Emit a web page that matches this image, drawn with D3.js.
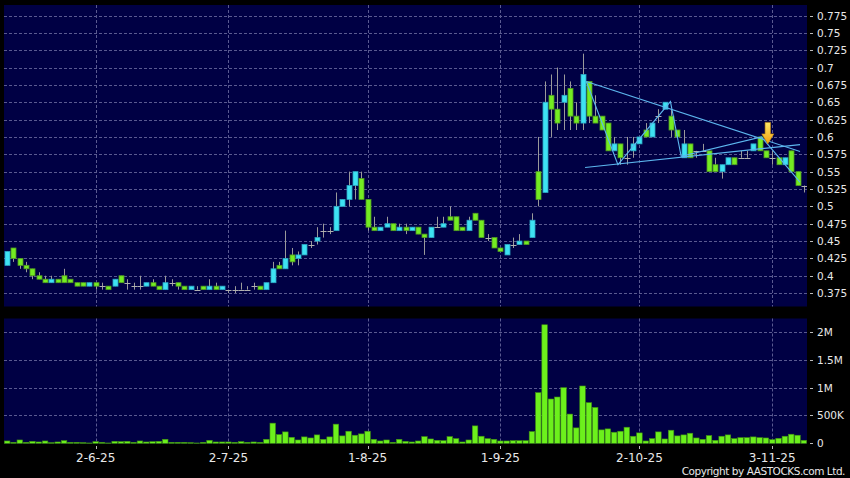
<!DOCTYPE html>
<html>
<head>
<meta charset="utf-8">
<script src="https://cdn.jsdelivr.net/npm/d3@7"></script>
<style>
  html, body { margin: 0; padding: 0; background: #000; }
  svg { display: block; }
</style>
</head>
<body>
<div id="chart"></div>
<script>
// trading days (d-m-yy)
var dates = [
  "13-5-25","14-5-25","15-5-25","16-5-25","19-5-25","20-5-25","21-5-25","22-5-25","23-5-25","26-5-25","27-5-25","28-5-25","29-5-25","30-5-25",
  "2-6-25","3-6-25","4-6-25","5-6-25","6-6-25","9-6-25","10-6-25","11-6-25","12-6-25","13-6-25","16-6-25","17-6-25","18-6-25","19-6-25","20-6-25","23-6-25","24-6-25","25-6-25","26-6-25","27-6-25","30-6-25",
  "2-7-25","3-7-25","4-7-25","7-7-25","8-7-25","9-7-25","10-7-25","11-7-25","14-7-25","15-7-25","16-7-25","17-7-25","18-7-25","21-7-25","22-7-25","23-7-25","24-7-25","25-7-25","28-7-25","29-7-25","30-7-25","31-7-25",
  "1-8-25","4-8-25","5-8-25","6-8-25","7-8-25","8-8-25","11-8-25","12-8-25","13-8-25","14-8-25","15-8-25","18-8-25","19-8-25","20-8-25","21-8-25","22-8-25","25-8-25","26-8-25","27-8-25","28-8-25","29-8-25",
  "1-9-25","2-9-25","3-9-25","4-9-25","5-9-25","8-9-25","9-9-25","10-9-25","11-9-25","12-9-25","15-9-25","16-9-25","17-9-25","18-9-25","19-9-25","22-9-25","23-9-25","24-9-25","25-9-25","26-9-25","29-9-25","30-9-25",
  "2-10-25","3-10-25","6-10-25","7-10-25","8-10-25","9-10-25","10-10-25","13-10-25","14-10-25","15-10-25","16-10-25","17-10-25","20-10-25","21-10-25","22-10-25","23-10-25","24-10-25","27-10-25","28-10-25","30-10-25","31-10-25",
  "3-11-25","4-11-25","5-11-25","6-11-25","7-11-25","10-11-25"
];

var open = [
  0.415,0.44,0.425,0.415,0.41,0.40,0.395,0.39,0.395,0.40,0.395,0.39,0.39,0.385,
  0.39,0.385,0.385,0.385,0.40,0.39,0.385,0.385,0.385,0.39,0.385,0.38,0.39,0.39,0.385,0.38,0.38,0.385,0.38,0.385,0.38,
  0.38,0.38,0.38,0.38,0.385,0.385,0.38,0.39,0.415,0.41,0.43,0.425,0.43,0.445,0.45,0.465,0.465,0.465,0.50,0.51,0.53,0.54,
  0.51,0.47,0.465,0.47,0.475,0.465,0.47,0.465,0.47,0.46,0.455,0.47,0.47,0.485,0.485,0.47,0.465,0.49,0.48,0.455,0.455,
  0.44,0.43,0.445,0.445,0.45,0.455,0.55,0.52,0.66,0.64,0.65,0.67,0.63,0.62,0.68,0.63,0.63,0.62,0.58,0.59,0.57,0.58,
  0.59,0.61,0.60,0.63,0.64,0.63,0.61,0.57,0.59,0.58,0.58,0.58,0.56,0.55,0.56,0.57,0.57,0.57,0.58,0.60,0.58,
  0.57,0.57,0.56,0.58,0.55,0.53
];
var high = [
  0.435,0.44,0.425,0.42,0.41,0.405,0.40,0.40,0.395,0.41,0.395,0.39,0.39,0.39,
  0.39,0.39,0.385,0.395,0.40,0.395,0.39,0.40,0.39,0.395,0.385,0.40,0.395,0.39,0.385,0.385,0.385,0.385,0.395,0.39,0.385,
  0.38,0.385,0.39,0.385,0.39,0.385,0.39,0.42,0.42,0.465,0.44,0.435,0.445,0.45,0.47,0.475,0.47,0.52,0.51,0.55,0.55,0.55,
  0.51,0.485,0.47,0.485,0.475,0.475,0.475,0.47,0.47,0.46,0.47,0.485,0.485,0.50,0.485,0.47,0.485,0.49,0.48,0.46,0.455,
  0.44,0.445,0.455,0.46,0.45,0.49,0.60,0.68,0.69,0.70,0.69,0.68,0.65,0.72,0.68,0.66,0.63,0.62,0.60,0.59,0.60,0.60,
  0.60,0.62,0.62,0.64,0.65,0.64,0.61,0.61,0.59,0.58,0.59,0.58,0.57,0.56,0.57,0.57,0.58,0.58,0.59,0.60,0.58,
  0.58,0.57,0.57,0.58,0.55,0.53
];
var low = [
  0.415,0.42,0.41,0.405,0.395,0.395,0.39,0.39,0.39,0.39,0.39,0.385,0.385,0.385,
  0.38,0.38,0.38,0.385,0.39,0.38,0.38,0.38,0.385,0.385,0.38,0.38,0.385,0.38,0.38,0.38,0.38,0.38,0.38,0.38,0.38,
  0.375,0.375,0.38,0.38,0.38,0.38,0.38,0.39,0.41,0.41,0.415,0.415,0.43,0.44,0.445,0.455,0.46,0.465,0.50,0.50,0.51,0.51,
  0.465,0.465,0.465,0.47,0.465,0.465,0.46,0.465,0.46,0.43,0.455,0.47,0.47,0.48,0.465,0.465,0.465,0.48,0.455,0.45,0.44,
  0.435,0.43,0.44,0.445,0.445,0.455,0.50,0.52,0.60,0.61,0.61,0.61,0.61,0.61,0.62,0.62,0.61,0.58,0.58,0.56,0.56,0.57,
  0.59,0.60,0.60,0.62,0.64,0.60,0.60,0.57,0.57,0.57,0.58,0.55,0.55,0.54,0.56,0.56,0.57,0.57,0.58,0.58,0.57,
  0.56,0.56,0.56,0.55,0.53,0.52
];
var close = [
  0.435,0.425,0.415,0.41,0.40,0.395,0.39,0.395,0.39,0.39,0.39,0.385,0.385,0.39,
  0.385,0.385,0.38,0.395,0.39,0.39,0.385,0.385,0.39,0.385,0.38,0.39,0.39,0.385,0.38,0.385,0.38,0.38,0.385,0.38,0.385,
  0.38,0.38,0.38,0.38,0.385,0.38,0.39,0.41,0.41,0.425,0.42,0.43,0.445,0.445,0.455,0.465,0.465,0.50,0.51,0.53,0.55,0.51,
  0.47,0.465,0.47,0.475,0.465,0.47,0.465,0.47,0.46,0.455,0.47,0.47,0.475,0.48,0.465,0.465,0.48,0.48,0.455,0.455,0.44,
  0.435,0.445,0.445,0.45,0.445,0.48,0.51,0.65,0.64,0.62,0.66,0.63,0.62,0.69,0.63,0.62,0.61,0.58,0.59,0.57,0.57,0.59,
  0.60,0.60,0.62,0.63,0.65,0.61,0.60,0.59,0.57,0.58,0.58,0.55,0.55,0.56,0.57,0.56,0.57,0.57,0.59,0.58,0.57,
  0.57,0.56,0.57,0.55,0.53,0.53
];
// volume, thousands of shares
var volume = [
  42,18,60,18,36,24,42,12,24,48,18,18,12,6,
  30,18,6,36,30,36,18,42,24,30,36,72,18,18,18,12,6,18,54,24,24,
  24,18,30,18,24,18,72,362,157,205,108,60,115,96,151,72,115,344,133,217,145,169,
  217,72,42,60,18,72,36,24,42,120,78,54,48,120,84,24,60,313,127,84,72,
  42,42,48,48,48,211,910,2130,796,832,1000,525,277,1030,730,645,241,259,199,217,289,127,
  187,42,84,205,78,235,133,151,181,96,72,139,54,127,151,84,102,102,115,102,96,
  66,90,127,163,145,54
];

var priceTicks = [0.375,0.4,0.425,0.45,0.475,0.5,0.525,0.55,0.575,0.6,0.625,0.65,0.675,0.7,0.725,0.75,0.775];
var volumeTicks = [0, 500, 1000, 1500, 2000];
var volumeLabels = ["0", "500K", "1M", "1.5M", "2M"];
var dateTicks = ["2-6-25", "2-7-25", "1-8-25", "1-9-25", "2-10-25", "3-11-25"];

// drawn trend lines: [bar index, price]
var upperLine = [[91.6, 0.680], [125.4, 0.579]];
var lowerLine = [[91.4, 0.556], [125.4, 0.589]];
var zigzag = [[91.6, 0.680], [96.6, 0.560], [104.9, 0.651], [106.6, 0.572], [119.3, 0.600], [125.4, 0.535]];
var arrowAt = [120.3, 0.590];

var width = 850, height = 478;
var plotL = 4, plotR = 807;
var priceTop = 5, priceBot = 306.5;
var volTop = 318.5, volBot = 443.5;

var svg = d3.select("#chart").append("svg")
  .attr("width", width)
  .attr("height", height)
  .style("background", "#000")
  .style("font-family", "'DejaVu Sans', Verdana, sans-serif");

var x = d3.scaleBand().domain(dates).range([plotL, plotR]).padding(0);
var step = x.step();
var bodyW = 5;
function xc(d) { return x(d) + step / 2; }
function xi(f) { return x(dates[0]) + step / 2 + f * step; }

var y = d3.scaleLinear().domain([0.375, 0.775]).range([293.1, 15.5]);
var yv = d3.scaleLinear().domain([0, 2000]).range([443.3, 332]);

var bars = dates.map(function(d, i) {
  return { date: d, o: open[i], h: high[i], l: low[i], c: close[i], v: volume[i] };
});

var defs = svg.append("defs");
defs.append("clipPath").attr("id", "clipPrice")
  .append("rect").attr("x", plotL).attr("y", priceTop).attr("width", plotR - plotL).attr("height", priceBot - priceTop);
var grad = defs.append("linearGradient").attr("id", "arrowGrad")
  .attr("x1", 0).attr("y1", 0).attr("x2", 0).attr("y2", 1);
grad.append("stop").attr("offset", "0%").attr("stop-color", "#ffe866");
grad.append("stop").attr("offset", "100%").attr("stop-color", "#f0a010");

// panels
svg.append("rect").attr("x", plotL).attr("y", priceTop).attr("width", plotR - plotL).attr("height", priceBot - priceTop).attr("fill", "#000044");
svg.append("rect").attr("x", plotL).attr("y", volTop).attr("width", plotR - plotL).attr("height", volBot - volTop).attr("fill", "#000044");

var grid = svg.append("g")
  .attr("stroke", "#5a5a90")
  .attr("stroke-width", 1)
  .attr("stroke-dasharray", "3,2");

grid.selectAll(".hp").data(priceTicks).enter().append("line")
  .attr("x1", plotL).attr("x2", plotR)
  .attr("y1", function(d) { return Math.round(y(d)) + 0.5; })
  .attr("y2", function(d) { return Math.round(y(d)) + 0.5; });
grid.selectAll(".hv").data(volumeTicks.slice(1)).enter().append("line")
  .attr("x1", plotL).attr("x2", plotR)
  .attr("y1", function(d) { return Math.round(yv(d)) + 0.5; })
  .attr("y2", function(d) { return Math.round(yv(d)) + 0.5; });
grid.selectAll(".vp").data(dateTicks).enter().append("line")
  .attr("x1", function(d) { return Math.round(xc(d)) + 0.5; })
  .attr("x2", function(d) { return Math.round(xc(d)) + 0.5; })
  .attr("y1", priceTop).attr("y2", priceBot);
grid.selectAll(".vv").data(dateTicks).enter().append("line")
  .attr("x1", function(d) { return Math.round(xc(d)) + 0.5; })
  .attr("x2", function(d) { return Math.round(xc(d)) + 0.5; })
  .attr("y1", volTop).attr("y2", volBot);

// candles
var candles = svg.append("g").attr("clip-path", "url(#clipPrice)");

candles.selectAll(".wick").data(bars).enter().append("line")
  .attr("x1", function(d) { return Math.round(xc(d.date)) + 0.5; })
  .attr("x2", function(d) { return Math.round(xc(d.date)) + 0.5; })
  .attr("y1", function(d) { return y(d.h); })
  .attr("y2", function(d) { return y(d.l); })
  .attr("stroke", "#9a9a9a")
  .attr("stroke-width", 1);

candles.selectAll(".body").data(bars.filter(function(d) { return d.o !== d.c; })).enter().append("rect")
  .attr("x", function(d) { return Math.round(xc(d.date)) + 0.5 - bodyW / 2; })
  .attr("y", function(d) { return y(Math.max(d.o, d.c)); })
  .attr("width", bodyW)
  .attr("height", function(d) { return Math.max(1, y(Math.min(d.o, d.c)) - y(Math.max(d.o, d.c))); })
  .attr("fill", function(d) { return d.c > d.o ? "#3ee2f2" : "#74ec22"; })
  .attr("stroke", function(d) { return d.c > d.o ? "#2aa6c4" : "#4f9a20"; })
  .attr("stroke-width", 0.8);

candles.selectAll(".doji").data(bars.filter(function(d) { return d.o === d.c; })).enter().append("line")
  .attr("x1", function(d) { return Math.round(xc(d.date)) + 0.5 - bodyW / 2 - 0.5; })
  .attr("x2", function(d) { return Math.round(xc(d.date)) + 0.5 + bodyW / 2 + 0.5; })
  .attr("y1", function(d) { return Math.round(y(d.c)) + 0.5; })
  .attr("y2", function(d) { return Math.round(y(d.c)) + 0.5; })
  .attr("stroke", "#b0b0b0")
  .attr("stroke-width", 1);

// trend lines
var line = d3.line()
  .x(function(p) { return xi(p[0]); })
  .y(function(p) { return y(p[1]); });
[upperLine, lowerLine, zigzag].forEach(function(pts) {
  candles.append("path")
    .attr("d", line(pts))
    .attr("fill", "none")
    .attr("stroke", "#5cb6ee")
    .attr("stroke-width", 1.1);
});

// arrow marker
var ax = xi(arrowAt[0]), ay = y(arrowAt[1]);
svg.append("path")
  .attr("d", "M" + (ax - 2.7) + "," + (ay - 21.5) +
    "L" + (ax + 2.7) + "," + (ay - 21.5) +
    "L" + (ax + 2.7) + "," + (ay - 10) +
    "L" + (ax + 6) + "," + (ay - 10) +
    "L" + ax + "," + ay +
    "L" + (ax - 6) + "," + (ay - 10) +
    "L" + (ax - 2.7) + "," + (ay - 10) + "Z")
  .attr("fill", "url(#arrowGrad)")
  .attr("stroke", "#c88a10")
  .attr("stroke-width", 0.6);

// volume
svg.append("g").selectAll("rect").data(bars).enter().append("rect")
  .attr("x", function(d) { return x(d.date) + 0.4; })
  .attr("y", function(d) { return yv(d.v); })
  .attr("width", step - 0.8)
  .attr("height", function(d) { return yv(0) - yv(d.v); })
  .attr("fill", "#6cf01c")
  .attr("stroke", "#3f8e12")
  .attr("stroke-width", 0.6);

// right axes
var axisG = svg.append("g").attr("fill", "#e8e8e8").style("font-size", "10.5px");
axisG.selectAll(".pt").data(priceTicks).enter().append("line")
  .attr("x1", 810).attr("x2", 813)
  .attr("y1", function(d) { return Math.round(y(d)) + 0.5; })
  .attr("y2", function(d) { return Math.round(y(d)) + 0.5; })
  .attr("stroke", "#bbbbbb");
axisG.selectAll(".pl").data(priceTicks).enter().append("text")
  .attr("x", 817)
  .attr("y", function(d) { return y(d) + 4; })
  .text(function(d) { return d3.format("")(+d.toFixed(3)); });

axisG.selectAll(".vt").data(volumeTicks).enter().append("line")
  .attr("x1", 810).attr("x2", 813)
  .attr("y1", function(d) { return Math.round(yv(d)) + 0.5; })
  .attr("y2", function(d) { return Math.round(yv(d)) + 0.5; })
  .attr("stroke", "#bbbbbb");
axisG.selectAll(".vl").data(volumeTicks).enter().append("text")
  .attr("x", 817)
  .attr("y", function(d) { return yv(d) + 4; })
  .text(function(d, i) { return volumeLabels[i]; });

// date axis
var dateG = svg.append("g");
dateG.selectAll("line").data(dateTicks).enter().append("line")
  .attr("x1", function(d) { return Math.round(xc(d)) + 0.5; })
  .attr("x2", function(d) { return Math.round(xc(d)) + 0.5; })
  .attr("y1", 446).attr("y2", 449)
  .attr("stroke", "#bbbbbb");
dateG.selectAll("text").data(dateTicks).enter().append("text")
  .attr("x", function(d) { return xc(d); })
  .attr("y", 462)
  .attr("text-anchor", "middle")
  .attr("fill", "#e8e8e8")
  .style("font-size", "12px")
  .text(function(d) { return d; });

svg.append("text")
  .attr("x", 845)
  .attr("y", 475)
  .attr("text-anchor", "end")
  .attr("fill", "#e8e8e8")
  .style("font-size", "10.5px")
  .style("letter-spacing", "-0.45px")
  .text("Copyright by AASTOCKS.com Ltd.");
</script>
</body>
</html>
